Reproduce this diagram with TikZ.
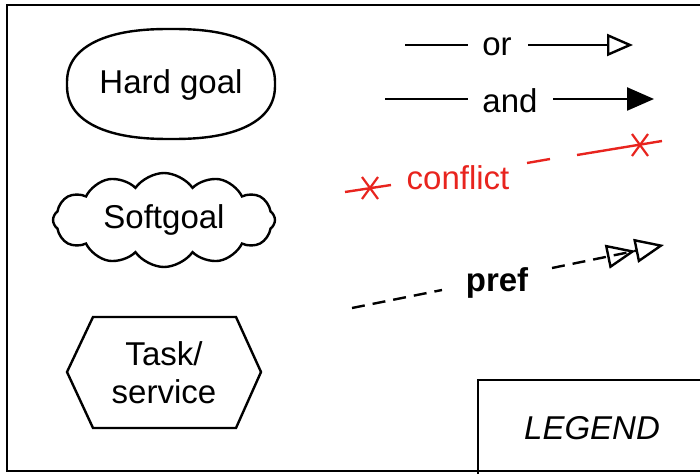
\documentclass[tikz,border=0pt]{standalone}
\usepackage{fontspec}
\setmainfont{Liberation Sans}
\usetikzlibrary{arrows.meta,shapes.symbols}
\definecolor{confred}{RGB}{232,36,30}
\tikzset{
  lbl/.style={font=\fontsize{33}{40}\selectfont, inner sep=0pt},
  shp/.style={draw, line width=2.4pt},
  conn/.style={line width=2.4pt},
  starmark/.style={line width=2.2pt, confred},
}
\begin{document}
\begin{tikzpicture}[x=1pt,y=-1pt]
\useasboundingbox (0,0) rectangle (700,473);
% outer frame
\draw[line width=2.4pt] (7,5) rectangle (710,471);
% hard goal
\node[lbl] (hard) at (171,85) {Hard goal};
\draw[line width=2.4pt, line join=round] plot[domain=1:361, samples=181, variable=\t]
  ({171+104*sign(cos(\t))*pow(abs(cos(\t)),0.8333)},
   {84+55*sign(sin(\t))*pow(abs(sin(\t)),0.8333)}) -- cycle;
% softgoal
\node[shp, cloud, cloud puffs=12, cloud puff arc=110, cloud ignores aspect, minimum width=222pt, minimum height=94pt, lbl] (soft) at (164,220) {Softgoal};
% task
\node[lbl, align=center, text width=150pt] (task) at (164,373) {Task/\\[-2pt]service};
\coordinate (t1) at (67,372);
\coordinate (t2) at (93,317);
\coordinate (t3) at (236,317);
\coordinate (t4) at (261,372);
\coordinate (t5) at (236,428);
\coordinate (t6) at (93,428);
\draw[line width=2.4pt, line join=miter] (t1) -- (t2) -- (t3) -- (t4) -- (t5) -- (t6) -- cycle;
% or
\node[lbl] (or) at (497,47) {or};
\coordinate (ors) at (405,45);
\coordinate (ore) at (468,45);
\coordinate (ors2) at (528,45);
\coordinate (ortip) at (633,45);
\draw[conn] (ors) -- (ore);
\draw[conn, -{Triangle[open, length=26pt, width=22pt, line width=2.4pt]}] (ors2) -- (ortip);
% and
\node[lbl] (and) at (510,101) {and};
\coordinate (ands) at (385,99);
\coordinate (ande) at (468,99);
\coordinate (ands2) at (553,99);
\coordinate (andtip) at (654,99);
\draw[conn] (ands) -- (ande);
\draw[conn, -{Triangle[length=27pt, width=23pt]}] (ands2) -- (andtip);
% conflict
\node[lbl, text=confred] (conflict) at (458,178) {conflict};
\coordinate (c0) at (345,192);
\coordinate (c1) at (391,185);
\coordinate (c2) at (527,163);
\coordinate (c3) at (550,159);
\coordinate (c4) at (577,155);
\coordinate (c5) at (662,141);
\coordinate (s1) at (370,188);
\coordinate (s2) at (640,145);
\draw[conn, confred] (c0) -- (c1);
\draw[conn, confred] (c2) -- (c3);
\draw[conn, confred] (c4) -- (c5);
\foreach \s in {s1,s2} {
  \draw[starmark] ([shift={(-8,-11)}]\s) -- ([shift={(8,11)}]\s);
  \draw[starmark] ([shift={(8,-11)}]\s) -- ([shift={(-8,11)}]\s);
}
% pref
\node[lbl, font=\fontsize{33}{40}\selectfont\bfseries] (pref) at (497,283) {pref};
\coordinate (p0) at (352,308);
\coordinate (p1) at (442,290);
\coordinate (p2) at (552,268);
\coordinate (ptip) at (664,245);
\draw[conn, dash pattern=on 13pt off 8pt] (p0) -- (p1);
\draw[conn, dash pattern=on 13pt off 8pt, -{Triangle[open, length=29pt, width=24pt, line width=2.4pt] Triangle[open, length=29pt, width=24pt, line width=2.4pt]}] (p2) -- (ptip);
% legend
\coordinate (l1) at (478,480);
\coordinate (l2) at (478,380);
\coordinate (l3) at (710,380);
\draw[line width=2.4pt] (l1) -- (l2) -- (l3);
\node[lbl, font=\fontsize{33}{40}\selectfont\itshape] (legend) at (592,428) {LEGEND};
\end{tikzpicture}
\end{document}
